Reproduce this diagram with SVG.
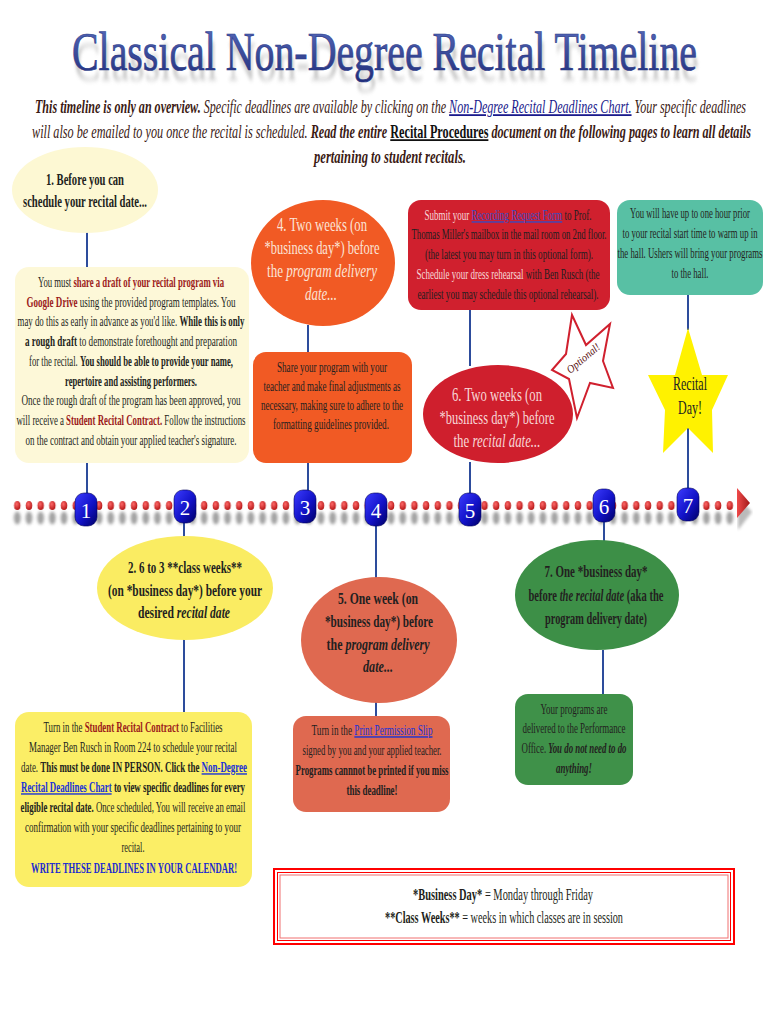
<svg xmlns="http://www.w3.org/2000/svg" width="770" height="1024" viewBox="0 0 770 1024">
<style>
.t{font-family:"Liberation Serif","DejaVu Serif",serif;fill:#231f20;font-size:14px}
.c{text-anchor:middle}
.b{font-weight:bold}
.i{font-style:italic}
.r{fill:#9b1b1b;font-weight:bold}
.lk{fill:#1a33d6;text-decoration:underline}
.lt{fill:#fbe3d6}
.big{font-size:19px}
.mid{font-size:17px}
.conn line{stroke:#2d4c9c;stroke-width:2}
.badge rect{fill:url(#bg);stroke:#00005a;stroke-width:0.6}
.badge text{font-family:"Liberation Serif",serif;font-size:21px;fill:#fff;text-anchor:middle}
</style>
<defs>
<linearGradient id="tg" x1="0" y1="0" x2="0" y2="1"><stop offset="0" stop-color="#5a6ec0"/><stop offset="1" stop-color="#1f2c78"/></linearGradient>
<linearGradient id="bg" x1="0" y1="0" x2="1" y2="1"><stop offset="0" stop-color="#3c3cff"/><stop offset="0.55" stop-color="#1212c8"/><stop offset="1" stop-color="#000066"/></linearGradient>
<radialGradient id="dg" cx="0.4" cy="0.35" r="0.7"><stop offset="0" stop-color="#ff6a6a"/><stop offset="1" stop-color="#b01010"/></radialGradient>
<linearGradient id="ag" x1="0" y1="0" x2="1" y2="0"><stop offset="0" stop-color="#f04a4a"/><stop offset="1" stop-color="#a01818"/></linearGradient>
<filter id="blur3" x="-10%" y="-50%" width="120%" height="200%"><feGaussianBlur stdDeviation="2.5"/></filter>
<filter id="blur2" x="-5%" y="-100%" width="110%" height="300%"><feGaussianBlur stdDeviation="1.6"/></filter>
<pattern id="dots" patternUnits="userSpaceOnUse" x="11.46" y="499" width="11.68" height="13"><ellipse cx="5.84" cy="6.5" rx="3.2" ry="4.6" fill="url(#dg)"/></pattern>
<pattern id="sdots" patternUnits="userSpaceOnUse" x="11.46" y="510" width="11.68" height="16"><ellipse cx="5.84" cy="8" rx="3.4" ry="6.5" fill="#8a8a8a"/></pattern>
</defs>
<rect width="770" height="1024" fill="#ffffff"/>

<g id="title">
<text transform="matrix(0.6 0 0 1 74 80)" textLength="1041.7" lengthAdjust="spacingAndGlyphs" font-family="Liberation Serif,serif" font-size="54" fill="#9a9a9a" opacity="0.55" filter="url(#blur3)">Classical Non-Degree Recital Timeline</text>
<text transform="matrix(0.6 0 0 1 72 70)" textLength="1041.7" lengthAdjust="spacingAndGlyphs" font-family="Liberation Serif,serif" font-size="54" fill="url(#tg)" stroke="#2a3a88" stroke-width="0.7">Classical Non-Degree Recital Timeline</text>
</g>

<g id="intro">
<text transform="matrix(0.6 0 0 1 35 113)" textLength="1185" lengthAdjust="spacingAndGlyphs" class="t i" style="font-size:18px;fill:#3b1a14"><tspan class="b">This timeline is only an overview.</tspan> Specific deadlines are available by clicking on the <tspan style="fill:#1a1a8c;text-decoration:underline">Non-Degree Recital Deadlines Chart.</tspan> Your specific deadlines</text>
<text transform="matrix(0.6 0 0 1 32 138)" textLength="1198.3" lengthAdjust="spacingAndGlyphs" class="t i" style="font-size:18px;fill:#3b1a14">will also be emailed to you once the recital is scheduled. <tspan class="b">Read the entire </tspan><tspan class="b" style="fill:#111;text-decoration:underline;font-style:normal">Recital Procedures</tspan><tspan class="b"> document on the following pages to learn all details</tspan></text>
<text transform="matrix(0.6 0 0 1 390 163)" textLength="253.3" lengthAdjust="spacingAndGlyphs" class="t i b c" style="font-size:18px;fill:#3b1a14">pertaining to student recitals.</text>
</g>

<g id="timeline">
<rect x="11.46" y="510" width="724.2" height="16" fill="url(#sdots)" filter="url(#blur2)" opacity="0.8"/>
<polygon points="738,497 752,512 738,530" fill="#777" opacity="0.5" filter="url(#blur2)"/>
<rect x="11.46" y="499" width="724.2" height="13" fill="url(#dots)"/>
<polygon points="737,488 750,503 737,518" fill="url(#ag)"/>
</g>

<g class="conn" id="connectors">
<line x1="87" y1="232" x2="87" y2="267"/>
<line x1="87" y1="463" x2="87" y2="494"/>
<line x1="308" y1="325" x2="308" y2="352"/>
<line x1="308" y1="463" x2="308" y2="491"/>
<line x1="470" y1="310" x2="470" y2="366"/>
<line x1="470" y1="462" x2="470" y2="494"/>
<line x1="688" y1="295" x2="688" y2="330"/>
<line x1="688" y1="428" x2="688" y2="490"/>
<line x1="184" y1="522" x2="184" y2="538"/>
<line x1="184" y1="639" x2="184" y2="713"/>
<line x1="376" y1="526" x2="376" y2="578"/>
<line x1="376" y1="702" x2="376" y2="717"/>
<line x1="604" y1="521" x2="604" y2="541"/>
<line x1="603" y1="650" x2="603" y2="695"/>
</g>

<g id="badges" class="badge">
<g id="b1"><rect x="75" y="493" width="22" height="33" rx="9"/><text x="86" y="518">1</text></g>
<g id="b2"><rect x="174" y="490" width="22" height="33" rx="9"/><text x="185" y="515">2</text></g>
<g id="b3"><rect x="294" y="490" width="22" height="33" rx="9"/><text x="305" y="515">3</text></g>
<g id="b4"><rect x="365" y="493" width="22" height="33" rx="9"/><text x="376" y="518">4</text></g>
<g id="b5"><rect x="459" y="493" width="22" height="33" rx="9"/><text x="470" y="518">5</text></g>
<g id="b6"><rect x="593" y="489" width="22" height="33" rx="9"/><text x="604" y="514">6</text></g>
<g id="b7"><rect x="677" y="488" width="22" height="33" rx="9"/><text x="688" y="513">7</text></g>
</g>

<g id="node1">
<ellipse cx="85" cy="190" rx="73" ry="43" fill="#fdf8d3"/>
<text transform="matrix(0.5 0 0 1 85 185)" textLength="156" lengthAdjust="spacingAndGlyphs" class="t c b" style="font-size:16px">1. Before you can</text>
<text transform="matrix(0.5 0 0 1 85 207)" textLength="248" lengthAdjust="spacingAndGlyphs" class="t c b" style="font-size:16px">schedule your recital date...</text>
</g>

<g id="box1">
<rect x="15" y="267" width="234" height="196" rx="14" fill="#fdf8d8"/>
<text transform="matrix(0.5 0 0 1 131 287)" textLength="372" lengthAdjust="spacingAndGlyphs" class="t c">You must <tspan class="r">share a draft of your recital program via</tspan></text>
<text transform="matrix(0.5 0 0 1 131 306.7)" textLength="418" lengthAdjust="spacingAndGlyphs" class="t c"><tspan class="r">Google Drive</tspan> using the provided program templates. You</text>
<text transform="matrix(0.5 0 0 1 131 326.4)" textLength="454" lengthAdjust="spacingAndGlyphs" class="t c">may do this as early in advance as you'd like. <tspan class="b">While this is only</tspan></text>
<text transform="matrix(0.5 0 0 1 131 346)" textLength="424" lengthAdjust="spacingAndGlyphs" class="t c"><tspan class="b">a rough draft</tspan> to demonstrate forethought and preparation</text>
<text transform="matrix(0.5 0 0 1 131 365.8)" textLength="408" lengthAdjust="spacingAndGlyphs" class="t c">for the recital. <tspan class="b">You should be able to provide your name,</tspan></text>
<text transform="matrix(0.5 0 0 1 131 385.5)" textLength="264" lengthAdjust="spacingAndGlyphs" class="t c b">repertoire and assisting performers.</text>
<text transform="matrix(0.5 0 0 1 131 405)" textLength="438" lengthAdjust="spacingAndGlyphs" class="t c">Once the rough draft of the program has been approved, you</text>
<text transform="matrix(0.5 0 0 1 131 425)" textLength="458" lengthAdjust="spacingAndGlyphs" class="t c">will receive a <tspan class="r">Student Recital Contract.</tspan> Follow the instructions</text>
<text transform="matrix(0.5 0 0 1 131 444.6)" textLength="422" lengthAdjust="spacingAndGlyphs" class="t c">on the contract and obtain your applied teacher's signature.</text>
</g>

<g id="node4">
<ellipse cx="323" cy="263" rx="72" ry="63" fill="#f15a24"/>
<text transform="matrix(0.5 0 0 1 322 231)" textLength="180" lengthAdjust="spacingAndGlyphs" class="t c big lt">4. Two weeks (on</text>
<text transform="matrix(0.5 0 0 1 322 254)" textLength="230" lengthAdjust="spacingAndGlyphs" class="t c big lt">*business day*) before</text>
<text transform="matrix(0.5 0 0 1 322 277)" textLength="220" lengthAdjust="spacingAndGlyphs" class="t c big lt">the <tspan class="i">program delivery</tspan></text>
<text transform="matrix(0.5 0 0 1 321 300)" textLength="64" lengthAdjust="spacingAndGlyphs" class="t c big lt i">date...</text>
</g>

<g id="box4">
<rect x="253" y="352" width="159" height="111" rx="13" fill="#f15a24"/>
<text transform="matrix(0.5 0 0 1 332 372)" textLength="220" lengthAdjust="spacingAndGlyphs" class="t c">Share your program with your</text>
<text transform="matrix(0.5 0 0 1 332 391)" textLength="274" lengthAdjust="spacingAndGlyphs" class="t c">teacher and make final adjustments as</text>
<text transform="matrix(0.5 0 0 1 332 410)" textLength="284" lengthAdjust="spacingAndGlyphs" class="t c">necessary, making sure to adhere to the</text>
<text transform="matrix(0.5 0 0 1 331 429)" textLength="232" lengthAdjust="spacingAndGlyphs" class="t c">formatting guidelines provided.</text>
</g>

<g id="box6">
<rect x="408" y="200" width="202" height="110" rx="13" fill="#d0202e"/>
<text transform="matrix(0.5 0 0 1 508 220)" textLength="334" lengthAdjust="spacingAndGlyphs" class="t c"><tspan style="fill:#f7d9d9">Submit your </tspan><tspan style="fill:#3a4bc0;text-decoration:underline">Recording Request Form</tspan> to Prof.</text>
<text transform="matrix(0.5 0 0 1 509 239)" textLength="390" lengthAdjust="spacingAndGlyphs" class="t c">Thomas Miller's mailbox in the mail room on 2nd floor.</text>
<text transform="matrix(0.5 0 0 1 509 259)" textLength="336" lengthAdjust="spacingAndGlyphs" class="t c">(the latest you may turn in this optional form).</text>
<text transform="matrix(0.5 0 0 1 508 279)" textLength="366" lengthAdjust="spacingAndGlyphs" class="t c"><tspan style="fill:#f7d9d9">Schedule your dress rehearsal</tspan> with Ben Rusch (the</text>
<text transform="matrix(0.5 0 0 1 508 299)" textLength="362" lengthAdjust="spacingAndGlyphs" class="t c">earliest you may schedule this optional rehearsal).</text>
</g>

<g id="optional">
<polygon points="572,315 586,345 610,324 603,361 613,388 590,383 577,418 569,379 552,370 566,354" fill="#ffffff" stroke="#d0202e" stroke-width="2"/>
<text transform="rotate(-40 583 358) matrix(0.6 0 0 1 583 362)" textLength="66.7" lengthAdjust="spacingAndGlyphs" class="t c i" style="font-size:11px;fill:#5a1010">Optional!</text>
</g>

<g id="node6">
<ellipse cx="498" cy="414" rx="75" ry="49" fill="#cf1f2d"/>
<text transform="matrix(0.5 0 0 1 497 401)" textLength="180" lengthAdjust="spacingAndGlyphs" class="t c big" style="fill:#f7d6d6">6. Two weeks (on</text>
<text transform="matrix(0.5 0 0 1 497 424)" textLength="230" lengthAdjust="spacingAndGlyphs" class="t c big" style="fill:#f7d6d6">*business day*) before</text>
<text transform="matrix(0.5 0 0 1 497 447)" textLength="174" lengthAdjust="spacingAndGlyphs" class="t c big" style="fill:#f7d6d6">the <tspan class="i">recital date...</tspan></text>
</g>

<g id="box7">
<rect x="617" y="200" width="146" height="95" rx="13" fill="#58c0a4"/>
<text transform="matrix(0.5 0 0 1 690 218)" textLength="240" lengthAdjust="spacingAndGlyphs" class="t c">You will have up to one hour prior</text>
<text transform="matrix(0.5 0 0 1 690 238)" textLength="270" lengthAdjust="spacingAndGlyphs" class="t c">to your recital start time to warm up in</text>
<text transform="matrix(0.5 0 0 1 690 258)" textLength="290" lengthAdjust="spacingAndGlyphs" class="t c">the hall. Ushers will bring your programs</text>
<text transform="matrix(0.5 0 0 1 690 278)" textLength="74" lengthAdjust="spacingAndGlyphs" class="t c">to the hall.</text>
</g>

<g id="recitalday">
<polygon points="688,328 702,375 728,375 712,410 713,453 688,428 663,453 665,410 648,375 675,375" fill="#fff200"/>
<text transform="matrix(0.5 0 0 1 690 390)" textLength="68" lengthAdjust="spacingAndGlyphs" class="t c" style="font-size:18px">Recital</text>
<text transform="matrix(0.5 0 0 1 690 414)" textLength="48" lengthAdjust="spacingAndGlyphs" class="t c" style="font-size:18px">Day!</text>
</g>

<g id="node2">
<ellipse cx="185" cy="588" rx="88" ry="52" fill="#faec62"/>
<text transform="matrix(0.5 0 0 1 185 573)" textLength="228" lengthAdjust="spacingAndGlyphs" class="t c b mid">2. 6 to 3 **class weeks**</text>
<text transform="matrix(0.5 0 0 1 185 596)" textLength="308" lengthAdjust="spacingAndGlyphs" class="t c b mid">(on *business day*) before your</text>
<text transform="matrix(0.5 0 0 1 184 618)" textLength="184" lengthAdjust="spacingAndGlyphs" class="t c b mid">desired <tspan class="i">recital date</tspan></text>
</g>

<g id="box2">
<rect x="15" y="712" width="237" height="175" rx="14" fill="#fbee66"/>
<text transform="matrix(0.5 0 0 1 133 732)" textLength="358" lengthAdjust="spacingAndGlyphs" class="t c">Turn in the <tspan class="r">Student Recital Contract</tspan> to Facilities</text>
<text transform="matrix(0.5 0 0 1 133 752)" textLength="416" lengthAdjust="spacingAndGlyphs" class="t c">Manager Ben Rusch in Room 224 to schedule your recital</text>
<text transform="matrix(0.5 0 0 1 134 772)" textLength="452" lengthAdjust="spacingAndGlyphs" class="t c">date. <tspan class="b">This must be done IN PERSON. Click the </tspan><tspan class="b lk">Non-Degree</tspan></text>
<text transform="matrix(0.5 0 0 1 133 792)" textLength="448" lengthAdjust="spacingAndGlyphs" class="t c"><tspan class="b lk">Recital Deadlines Chart</tspan><tspan class="b">  to view specific deadlines for every</tspan></text>
<text transform="matrix(0.5 0 0 1 133 812)" textLength="450" lengthAdjust="spacingAndGlyphs" class="t c"><tspan class="b">eligible recital date.</tspan> Once scheduled, You will receive an email</text>
<text transform="matrix(0.5 0 0 1 133 832)" textLength="432" lengthAdjust="spacingAndGlyphs" class="t c">confirmation with your specific deadlines pertaining to your</text>
<text transform="matrix(0.5 0 0 1 133 852)" textLength="46" lengthAdjust="spacingAndGlyphs" class="t c">recital.</text>
<text transform="matrix(0.45 0 0 1 134 873)" textLength="457.8" lengthAdjust="spacingAndGlyphs" class="t c b" style="fill:#1a2ad0">WRITE THESE DEADLINES IN YOUR CALENDAR!</text>
</g>

<g id="node5">
<ellipse cx="379" cy="640" rx="78" ry="63" fill="#df6950"/>
<text transform="matrix(0.5 0 0 1 378 604)" textLength="160" lengthAdjust="spacingAndGlyphs" class="t c b mid">5. One week (on</text>
<text transform="matrix(0.5 0 0 1 379 627)" textLength="216" lengthAdjust="spacingAndGlyphs" class="t c b mid">*business day*) before</text>
<text transform="matrix(0.5 0 0 1 378 650)" textLength="206" lengthAdjust="spacingAndGlyphs" class="t c b mid">the <tspan class="i">program delivery</tspan></text>
<text transform="matrix(0.5 0 0 1 378 672)" textLength="60" lengthAdjust="spacingAndGlyphs" class="t c b mid i">date...</text>
</g>

<g id="box5">
<rect x="293" y="716" width="157" height="96" rx="13" fill="#df6950"/>
<text transform="matrix(0.5 0 0 1 372 735)" textLength="242" lengthAdjust="spacingAndGlyphs" class="t c">Turn in the <tspan class="lk">Print Permission Slip</tspan></text>
<text transform="matrix(0.5 0 0 1 372 755)" textLength="278" lengthAdjust="spacingAndGlyphs" class="t c">signed by you and your applied teacher.</text>
<text transform="matrix(0.5 0 0 1 372 775)" textLength="306" lengthAdjust="spacingAndGlyphs" class="t c b">Programs cannnot be printed if you miss</text>
<text transform="matrix(0.5 0 0 1 372 795)" textLength="102" lengthAdjust="spacingAndGlyphs" class="t c b">this deadline!</text>
</g>

<g id="node7">
<ellipse cx="597" cy="595" rx="82" ry="55" fill="#3d8f47"/>
<text transform="matrix(0.5 0 0 1 596 577)" textLength="206" lengthAdjust="spacingAndGlyphs" class="t c b mid">7. One  *business day*</text>
<text transform="matrix(0.48 0 0 1 596 601)" textLength="281.3" lengthAdjust="spacingAndGlyphs" class="t c b mid">before <tspan class="i">the recital date</tspan> (aka the</text>
<text transform="matrix(0.5 0 0 1 596 624)" textLength="204" lengthAdjust="spacingAndGlyphs" class="t c b mid">program delivery date)</text>
</g>

<g id="box7b">
<rect x="515" y="694" width="118" height="91" rx="13" fill="#3f9149"/>
<text transform="matrix(0.5 0 0 1 574 714)" textLength="134" lengthAdjust="spacingAndGlyphs" class="t c">Your programs are</text>
<text transform="matrix(0.5 0 0 1 574 733)" textLength="206" lengthAdjust="spacingAndGlyphs" class="t c">delivered to the Performance</text>
<text transform="matrix(0.5 0 0 1 574 753)" textLength="210" lengthAdjust="spacingAndGlyphs" class="t c">Office. <tspan class="b i">You do not need to do</tspan></text>
<text transform="matrix(0.5 0 0 1 574 773)" textLength="72" lengthAdjust="spacingAndGlyphs" class="t c b i">anything!</text>
</g>

<g id="legend">
<rect x="274" y="869" width="460" height="75" fill="#ffffff" stroke="#ff0000" stroke-width="2"/>
<rect x="277.5" y="872.5" width="453" height="68" fill="none" stroke="#ff0000" stroke-width="1"/>
<rect x="280" y="875" width="448" height="63" fill="none" stroke="#f07070" stroke-width="1"/>
<text transform="matrix(0.55 0 0 1 503 900)" textLength="327.3" lengthAdjust="spacingAndGlyphs" class="t c" style="font-size:16px"><tspan class="b">*Business Day*</tspan> = Monday through Friday</text>
<text transform="matrix(0.55 0 0 1 504 923)" textLength="432.7" lengthAdjust="spacingAndGlyphs" class="t c" style="font-size:16px"><tspan class="b">**Class Weeks**</tspan> = weeks in which classes are in session</text>
</g>
</svg>
